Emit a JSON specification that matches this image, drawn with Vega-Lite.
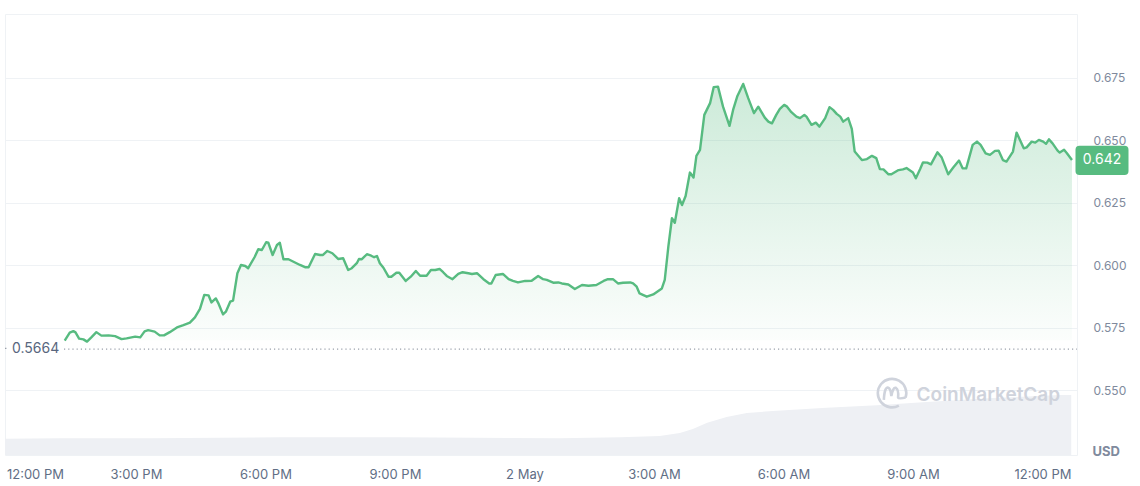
{
"$schema":"https://vega.github.io/schema/vega-lite/v6.json",
"width":1072,"height":441,
"autosize":{"type":"none"},
"padding":{"left":5,"top":14,"right":63,"bottom":31},
"background":"#ffffff",
"config":{"font":"Inter","view":{"stroke":"#eff2f5","strokeWidth":1}},
"datasets":{
"price":[
{"t":"2024-05-01T13:21Z","p":0.5698},{"t":"2024-05-01T13:28Z","p":0.5730},{"t":"2024-05-01T13:33Z","p":0.5736},{"t":"2024-05-01T13:36Z","p":0.5731},{"t":"2024-05-01T13:41Z","p":0.5706},{"t":"2024-05-01T13:47Z","p":0.5703},{"t":"2024-05-01T13:52Z","p":0.5694},{"t":"2024-05-01T13:58Z","p":0.5711},{"t":"2024-05-01T14:05Z","p":0.5732},{"t":"2024-05-01T14:12Z","p":0.5718},{"t":"2024-05-01T14:22Z","p":0.5719},{"t":"2024-05-01T14:31Z","p":0.5716},{"t":"2024-05-01T14:40Z","p":0.5704},{"t":"2024-05-01T14:47Z","p":0.5707},{"t":"2024-05-01T14:59Z","p":0.5714},{"t":"2024-05-01T15:06Z","p":0.5711},{"t":"2024-05-01T15:12Z","p":0.5735},{"t":"2024-05-01T15:17Z","p":0.5740},{"t":"2024-05-01T15:26Z","p":0.5734},{"t":"2024-05-01T15:33Z","p":0.5719},{"t":"2024-05-01T15:39Z","p":0.5719},{"t":"2024-05-01T15:47Z","p":0.5732},{"t":"2024-05-01T15:57Z","p":0.5751},{"t":"2024-05-01T16:06Z","p":0.5760},{"t":"2024-05-01T16:15Z","p":0.5770},{"t":"2024-05-01T16:22Z","p":0.5791},{"t":"2024-05-01T16:29Z","p":0.5825},{"t":"2024-05-01T16:35Z","p":0.5881},{"t":"2024-05-01T16:41Z","p":0.5879},{"t":"2024-05-01T16:45Z","p":0.5851},{"t":"2024-05-01T16:51Z","p":0.5867},{"t":"2024-05-01T16:55Z","p":0.5845},{"t":"2024-05-01T17:01Z","p":0.5803},{"t":"2024-05-01T17:05Z","p":0.5814},{"t":"2024-05-01T17:11Z","p":0.5854},{"t":"2024-05-01T17:15Z","p":0.5858},{"t":"2024-05-01T17:21Z","p":0.5968},{"t":"2024-05-01T17:26Z","p":0.6001},{"t":"2024-05-01T17:32Z","p":0.5997},{"t":"2024-05-01T17:36Z","p":0.5988},{"t":"2024-05-01T17:45Z","p":0.6033},{"t":"2024-05-01T17:50Z","p":0.6064},{"t":"2024-05-01T17:55Z","p":0.6061},{"t":"2024-05-01T18:01Z","p":0.6092},{"t":"2024-05-01T18:04Z","p":0.6090},{"t":"2024-05-01T18:10Z","p":0.6041},{"t":"2024-05-01T18:16Z","p":0.6081},{"t":"2024-05-01T18:20Z","p":0.6090},{"t":"2024-05-01T18:25Z","p":0.6024},{"t":"2024-05-01T18:32Z","p":0.6024},{"t":"2024-05-01T18:39Z","p":0.6014},{"t":"2024-05-01T18:48Z","p":0.6001},{"t":"2024-05-01T18:55Z","p":0.5992},{"t":"2024-05-01T19:00Z","p":0.5992},{"t":"2024-05-01T19:09Z","p":0.6045},{"t":"2024-05-01T19:16Z","p":0.6041},{"t":"2024-05-01T19:20Z","p":0.6041},{"t":"2024-05-01T19:26Z","p":0.6057},{"t":"2024-05-01T19:33Z","p":0.6048},{"t":"2024-05-01T19:41Z","p":0.6025},{"t":"2024-05-01T19:48Z","p":0.6028},{"t":"2024-05-01T19:55Z","p":0.5981},{"t":"2024-05-01T20:00Z","p":0.5988},{"t":"2024-05-01T20:07Z","p":0.6008},{"t":"2024-05-01T20:10Z","p":0.6025},{"t":"2024-05-01T20:14Z","p":0.6024},{"t":"2024-05-01T20:21Z","p":0.6044},{"t":"2024-05-01T20:27Z","p":0.6038},{"t":"2024-05-01T20:31Z","p":0.6032},{"t":"2024-05-01T20:35Z","p":0.6037},{"t":"2024-05-01T20:39Z","p":0.6008},{"t":"2024-05-01T20:44Z","p":0.5990},{"t":"2024-05-01T20:51Z","p":0.5954},{"t":"2024-05-01T20:55Z","p":0.5954},{"t":"2024-05-01T21:02Z","p":0.5970},{"t":"2024-05-01T21:06Z","p":0.5970},{"t":"2024-05-01T21:15Z","p":0.5937},{"t":"2024-05-01T21:22Z","p":0.5954},{"t":"2024-05-01T21:29Z","p":0.5977},{"t":"2024-05-01T21:35Z","p":0.5958},{"t":"2024-05-01T21:44Z","p":0.5958},{"t":"2024-05-01T21:50Z","p":0.5981},{"t":"2024-05-01T21:56Z","p":0.5981},{"t":"2024-05-01T22:02Z","p":0.5985},{"t":"2024-05-01T22:07Z","p":0.5972},{"t":"2024-05-01T22:12Z","p":0.5957},{"t":"2024-05-01T22:20Z","p":0.5944},{"t":"2024-05-01T22:28Z","p":0.5965},{"t":"2024-05-01T22:34Z","p":0.5972},{"t":"2024-05-01T22:42Z","p":0.5968},{"t":"2024-05-01T22:47Z","p":0.5965},{"t":"2024-05-01T22:54Z","p":0.5968},{"t":"2024-05-01T23:03Z","p":0.5944},{"t":"2024-05-01T23:11Z","p":0.5927},{"t":"2024-05-01T23:14Z","p":0.5927},{"t":"2024-05-01T23:20Z","p":0.5961},{"t":"2024-05-01T23:30Z","p":0.5965},{"t":"2024-05-01T23:38Z","p":0.5944},{"t":"2024-05-01T23:44Z","p":0.5937},{"t":"2024-05-01T23:51Z","p":0.5931},
{"t":"2024-05-02T00:01Z","p":0.5937},{"t":"2024-05-02T00:10Z","p":0.5938},{"t":"2024-05-02T00:19Z","p":0.5957},{"t":"2024-05-02T00:26Z","p":0.5944},{"t":"2024-05-02T00:31Z","p":0.5941},{"t":"2024-05-02T00:40Z","p":0.5930},{"t":"2024-05-02T00:47Z","p":0.5931},{"t":"2024-05-02T00:52Z","p":0.5927},{"t":"2024-05-02T01:01Z","p":0.5923},{"t":"2024-05-02T01:10Z","p":0.5905},{"t":"2024-05-02T01:20Z","p":0.5921},{"t":"2024-05-02T01:29Z","p":0.5918},{"t":"2024-05-02T01:40Z","p":0.5921},{"t":"2024-05-02T01:50Z","p":0.5937},{"t":"2024-05-02T01:56Z","p":0.5944},{"t":"2024-05-02T02:03Z","p":0.5944},{"t":"2024-05-02T02:10Z","p":0.5927},{"t":"2024-05-02T02:17Z","p":0.5930},{"t":"2024-05-02T02:27Z","p":0.5931},{"t":"2024-05-02T02:31Z","p":0.5927},{"t":"2024-05-02T02:36Z","p":0.5914},{"t":"2024-05-02T02:40Z","p":0.5887},{"t":"2024-05-02T02:50Z","p":0.5874},{"t":"2024-05-02T02:59Z","p":0.5883},{"t":"2024-05-02T03:11Z","p":0.5907},{"t":"2024-05-02T03:15Z","p":0.5941},{"t":"2024-05-02T03:20Z","p":0.6074},{"t":"2024-05-02T03:25Z","p":0.6188},{"t":"2024-05-02T03:29Z","p":0.6170},{"t":"2024-05-02T03:35Z","p":0.6268},{"t":"2024-05-02T03:39Z","p":0.6241},{"t":"2024-05-02T03:44Z","p":0.6277},{"t":"2024-05-02T03:50Z","p":0.6371},{"t":"2024-05-02T03:55Z","p":0.6351},{"t":"2024-05-02T03:59Z","p":0.6438},{"t":"2024-05-02T04:04Z","p":0.6462},{"t":"2024-05-02T04:10Z","p":0.6602},{"t":"2024-05-02T04:18Z","p":0.6649},{"t":"2024-05-02T04:23Z","p":0.6713},{"t":"2024-05-02T04:29Z","p":0.6715},{"t":"2024-05-02T04:36Z","p":0.6635},{"t":"2024-05-02T04:45Z","p":0.6558},{"t":"2024-05-02T04:50Z","p":0.6622},{"t":"2024-05-02T04:56Z","p":0.6678},{"t":"2024-05-02T05:04Z","p":0.6726},{"t":"2024-05-02T05:11Z","p":0.6669},{"t":"2024-05-02T05:19Z","p":0.6609},{"t":"2024-05-02T05:25Z","p":0.6635},{"t":"2024-05-02T05:34Z","p":0.6591},{"t":"2024-05-02T05:39Z","p":0.6575},{"t":"2024-05-02T05:44Z","p":0.6568},{"t":"2024-05-02T05:50Z","p":0.6602},{"t":"2024-05-02T05:55Z","p":0.6626},{"t":"2024-05-02T06:01Z","p":0.6642},{"t":"2024-05-02T06:05Z","p":0.6635},{"t":"2024-05-02T06:11Z","p":0.6613},{"t":"2024-05-02T06:18Z","p":0.6595},{"t":"2024-05-02T06:23Z","p":0.6589},{"t":"2024-05-02T06:29Z","p":0.6602},{"t":"2024-05-02T06:32Z","p":0.6595},{"t":"2024-05-02T06:39Z","p":0.6562},{"t":"2024-05-02T06:45Z","p":0.6571},{"t":"2024-05-02T06:50Z","p":0.6555},{"t":"2024-05-02T06:58Z","p":0.6589},{"t":"2024-05-02T07:04Z","p":0.6633},{"t":"2024-05-02T07:09Z","p":0.6622},{"t":"2024-05-02T07:14Z","p":0.6606},{"t":"2024-05-02T07:19Z","p":0.6595},{"t":"2024-05-02T07:23Z","p":0.6575},{"t":"2024-05-02T07:30Z","p":0.6589},{"t":"2024-05-02T07:35Z","p":0.6546},{"t":"2024-05-02T07:39Z","p":0.6455},{"t":"2024-05-02T07:49Z","p":0.6421},{"t":"2024-05-02T07:56Z","p":0.6425},{"t":"2024-05-02T08:03Z","p":0.6438},{"t":"2024-05-02T08:09Z","p":0.6429},{"t":"2024-05-02T08:14Z","p":0.6385},{"t":"2024-05-02T08:19Z","p":0.6384},{"t":"2024-05-02T08:26Z","p":0.6364},{"t":"2024-05-02T08:30Z","p":0.6364},{"t":"2024-05-02T08:40Z","p":0.6381},{"t":"2024-05-02T08:46Z","p":0.6384},{"t":"2024-05-02T08:51Z","p":0.6389},{"t":"2024-05-02T08:57Z","p":0.6377},{"t":"2024-05-02T09:00Z","p":0.6371},{"t":"2024-05-02T09:04Z","p":0.6348},{"t":"2024-05-02T09:10Z","p":0.6385},{"t":"2024-05-02T09:14Z","p":0.6412},{"t":"2024-05-02T09:20Z","p":0.6411},{"t":"2024-05-02T09:25Z","p":0.6404},{"t":"2024-05-02T09:34Z","p":0.6452},{"t":"2024-05-02T09:40Z","p":0.6431},{"t":"2024-05-02T09:49Z","p":0.6364},{"t":"2024-05-02T09:56Z","p":0.6391},{"t":"2024-05-02T10:04Z","p":0.6419},{"t":"2024-05-02T10:09Z","p":0.6388},{"t":"2024-05-02T10:14Z","p":0.6388},{"t":"2024-05-02T10:23Z","p":0.6482},{"t":"2024-05-02T10:29Z","p":0.6495},{"t":"2024-05-02T10:34Z","p":0.6482},{"t":"2024-05-02T10:41Z","p":0.6448},{"t":"2024-05-02T10:47Z","p":0.6442},{"t":"2024-05-02T10:54Z","p":0.6458},{"t":"2024-05-02T10:59Z","p":0.6459},{"t":"2024-05-02T11:05Z","p":0.6421},{"t":"2024-05-02T11:10Z","p":0.6415},{"t":"2024-05-02T11:19Z","p":0.6455},{"t":"2024-05-02T11:24Z","p":0.6531},{"t":"2024-05-02T11:34Z","p":0.6468},{"t":"2024-05-02T11:38Z","p":0.6472},{"t":"2024-05-02T11:45Z","p":0.6495},{"t":"2024-05-02T11:50Z","p":0.6491},{"t":"2024-05-02T11:55Z","p":0.6502},{"t":"2024-05-02T12:01Z","p":0.6495},{"t":"2024-05-02T12:05Z","p":0.6486},{"t":"2024-05-02T12:09Z","p":0.6504},{"t":"2024-05-02T12:14Z","p":0.6488},{"t":"2024-05-02T12:21Z","p":0.6459},{"t":"2024-05-02T12:24Z","p":0.6451},{"t":"2024-05-02T12:30Z","p":0.6462},{"t":"2024-05-02T12:34Z","p":0.6448},{"t":"2024-05-02T12:41Z","p":0.6421}
],
"vol":[
{"t":"2024-05-01T11:58Z","v":37},{"t":"2024-05-01T13:14Z","v":38},{"t":"2024-05-01T15:19Z","v":38},{"t":"2024-05-01T18:20Z","v":40},{"t":"2024-05-01T21:07Z","v":40},{"t":"2024-05-02T00:49Z","v":38},{"t":"2024-05-02T02:13Z","v":40},{"t":"2024-05-02T03:08Z","v":43},{"t":"2024-05-02T03:36Z","v":50},{"t":"2024-05-02T03:54Z","v":59},{"t":"2024-05-02T04:14Z","v":73},{"t":"2024-05-02T04:41Z","v":86},{"t":"2024-05-02T05:09Z","v":95},{"t":"2024-05-02T05:45Z","v":100},{"t":"2024-05-02T07:00Z","v":107},{"t":"2024-05-02T08:10Z","v":113},{"t":"2024-05-02T09:19Z","v":120},{"t":"2024-05-02T10:51Z","v":129},{"t":"2024-05-02T12:24Z","v":136},{"t":"2024-05-02T12:40Z","v":136}
],
"openref":[{"t":"2024-05-01T13:20Z","t2":"2024-05-02T12:48Z","p":0.5664}],
"openstub":[{"t":"2024-05-01T11:58Z","t2":"2024-05-01T12:00Z","p":0.5667}],
"openlabel":[{"t":"2024-05-01T11:58Z","p":0.5664,"label":"0.5664"}],
"last":[{"t":"2024-05-02T12:48Z","p":0.642,"label":"0.642"}],
"logo":[{"t":"2024-05-02T08:31Z","p":0.5488}],
"brand":[{"t":"2024-05-02T09:05Z","p":0.548,"label":"CoinMarketCap"}]
},
"layer":[
 {"data":{"name":"vol"},"mark":{"type":"area","color":"#eef0f4"},
  "encoding":{
   "x":{"field":"t","type":"temporal",
    "scale":{"type":"utc","domain":[{"year":2024,"month":5,"date":1,"hours":11,"minutes":58,"utc":true},{"year":2024,"month":5,"date":2,"hours":12,"minutes":48,"utc":true}]},
    "axis":{"orient":"bottom","title":null,"grid":false,"ticks":false,"domain":false,
     "values":[{"year":2024,"month":5,"date":1,"hours":12,"utc":true},{"year":2024,"month":5,"date":1,"hours":15,"utc":true},{"year":2024,"month":5,"date":1,"hours":18,"utc":true},{"year":2024,"month":5,"date":1,"hours":21,"utc":true},{"year":2024,"month":5,"date":2,"hours":0,"utc":true},{"year":2024,"month":5,"date":2,"hours":3,"utc":true},{"year":2024,"month":5,"date":2,"hours":6,"utc":true},{"year":2024,"month":5,"date":2,"hours":9,"utc":true},{"year":2024,"month":5,"date":2,"hours":12,"utc":true}],
     "labelExpr":"utcFormat(datum.value, '%H') == '00' ? utcFormat(datum.value, '%-d %b') : utcFormat(datum.value, '%-I:%M %p')",
     "labelPadding":13,"labelFontSize":13,"labelColor":"#616e85","labelFlush":3,"labelOverlap":false,"labelBound":false}},
   "y":{"field":"v","type":"quantitative","scale":{"domain":[0,1000]},"axis":null}}},
 {"layer":[
   {"data":{"name":"price"},
    "mark":{"type":"area","color":{"gradient":"linear","x1":0,"y1":0,"x2":0,"y2":1,"stops":[{"offset":0,"color":"rgba(87,187,128,0.30)"},{"offset":1,"color":"rgba(87,187,128,0.02)"}]}},
    "encoding":{"x":{"field":"t","type":"temporal"},
     "y":{"field":"p","type":"quantitative","scale":{"domain":[0.524,0.7006],"nice":false,"zero":false},
      "axis":{"orient":"right","values":[0.55,0.575,0.6,0.625,0.65,0.675],"format":".3f","grid":true,"gridColor":"#eff2f5","gridWidth":1,"ticks":false,"domain":false,
       "labelPadding":16,"labelFontSize":12,"labelColor":"#808a9d","labelAlign":"left","labelBaseline":"middle",
       "title":"USD","titleAngle":0,"titleAlign":"left","titleBaseline":"middle","titleX":15,"titleY":437,"titleFontSize":13,"titleFontWeight":"bold","titleColor":"#808a9d"}},
     "y2":{"datum":0.57}}},
   {"data":{"name":"price"},"mark":{"type":"line","color":"#57bb80","strokeWidth":2.4,"strokeJoin":"round"},
    "encoding":{"x":{"field":"t","type":"temporal"},"y":{"field":"p","type":"quantitative"}}},
   {"data":{"name":"openref"},"mark":{"type":"rule","color":"#9aa0ab","strokeDash":[1.2,3],"strokeWidth":1.2},
    "encoding":{"x":{"field":"t","type":"temporal"},"x2":{"field":"t2"},"y":{"field":"p","type":"quantitative"}}},
   {"data":{"name":"openstub"},"mark":{"type":"rule","color":"#9aa0ab","strokeWidth":1.2},
    "encoding":{"x":{"field":"t","type":"temporal"},"x2":{"field":"t2"},"y":{"field":"p","type":"quantitative"}}},
   {"data":{"name":"openlabel"},"mark":{"type":"text","align":"left","baseline":"middle","dx":7,"fontSize":14,"color":"#58667e"},
    "encoding":{"x":{"field":"t","type":"temporal"},"y":{"field":"p","type":"quantitative"},"text":{"field":"label"}}},
   {"data":{"name":"last"},"mark":{"type":"point","shape":"M -0.85 -0.55 L 0.85 -0.55 Q 1 -0.55 1 -0.4 L 1 0.4 Q 1 0.55 0.85 0.55 L -0.85 0.55 Q -1 0.55 -1 0.4 L -1 -0.4 Q -1 -0.55 -0.85 -0.55 Z","filled":true,"color":"#57bb80","opacity":1,"size":2809,"xOffset":25},
    "encoding":{"x":{"field":"t","type":"temporal"},"y":{"field":"p","type":"quantitative"}}},
   {"data":{"name":"last"},"mark":{"type":"text","align":"center","baseline":"middle","dx":25,"fontSize":14,"color":"#ffffff"},
    "encoding":{"x":{"field":"t","type":"temporal"},"y":{"field":"p","type":"quantitative"},"text":{"field":"label"}}},
   {"data":{"name":"logo"},"mark":{"type":"point","shape":"M 0.9 0.3 A 0.95 0.95 0 1 0 0.45 0.84 M -0.55 0.45 Q -0.5 -0.45 -0.25 -0.35 Q -0.1 -0.3 -0.05 0.2 Q 0.05 -0.4 0.25 -0.35 Q 0.45 -0.25 0.4 0.3 Q 0.45 0.4 0.9 0.3","filled":false,"stroke":"#cfd3dc","strokeWidth":2.6,"size":900,"opacity":1},
    "encoding":{"x":{"field":"t","type":"temporal"},"y":{"field":"p","type":"quantitative"}}},
   {"data":{"name":"brand"},"mark":{"type":"text","align":"left","baseline":"middle","fontSize":19,"fontWeight":600,"color":"#cfd3dc"},
    "encoding":{"x":{"field":"t","type":"temporal"},"y":{"field":"p","type":"quantitative"},"text":{"field":"label"}}}
 ]}
],
"resolve":{"scale":{"y":"independent"}}
}
